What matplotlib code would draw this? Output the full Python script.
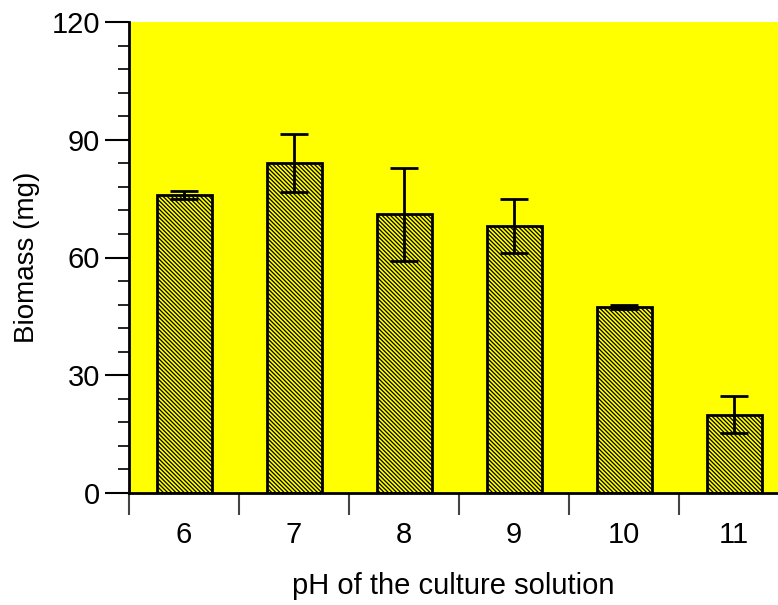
import numpy as np
import matplotlib
matplotlib.use("Agg")
import matplotlib.pyplot as plt
from matplotlib.ticker import MultipleLocator, FixedLocator

plt.rcParams['font.family'] = ['Liberation Sans', 'DejaVu Sans']
plt.rcParams['hatch.linewidth'] = 0.9

ph = ["6", "7", "8", "9", "10", "11"]
biomass = [76, 84, 71, 68, 47.5, 20]
err = [1.0, 7.4, 11.8, 6.9, 0.5, 4.6]

fig = plt.figure(figsize=(7.78, 6.05), dpi=100)
ax = fig.add_axes([129/778, 1-493/605, (778-129)/778, (493-22)/605])
ax.set_facecolor('#ffff00')

x = np.arange(len(ph))
ax.bar(x, biomass, width=0.5, color='#ffff00', edgecolor='black', linewidth=2,
       hatch='\\' * 8, zorder=2)
ax.errorbar(x, biomass, yerr=err, fmt='none', ecolor='black', elinewidth=2,
            capsize=10, capthick=2, zorder=3)

ax.set_xlim(-0.5, 5.4)
ax.set_ylim(0, 120)

ax.yaxis.set_major_locator(MultipleLocator(30))
ax.yaxis.set_minor_locator(MultipleLocator(6))
ax.tick_params(axis='y', which='major', length=17, width=1.5, labelsize=21, pad=4)
ax.tick_params(axis='y', which='minor', length=8, width=1.2)

ax.set_xticks(x)
ax.set_xticklabels(ph)
ax.xaxis.set_minor_locator(FixedLocator(np.arange(-0.5, 5.5, 1)))
ax.tick_params(axis='x', which='major', length=0, labelsize=21, pad=20)
ax.tick_params(axis='x', which='minor', length=16, width=1.5, color='#444444')

for s in ['top', 'right']:
    ax.spines[s].set_visible(False)
ax.spines['left'].set_linewidth(2)
ax.spines['bottom'].set_linewidth(2)

ax.set_ylabel("Biomass (mg)", fontsize=20, labelpad=8)
ax.set_xlabel("pH of the culture solution", fontsize=21, labelpad=17)

fig.savefig("out.png", dpi=100)
